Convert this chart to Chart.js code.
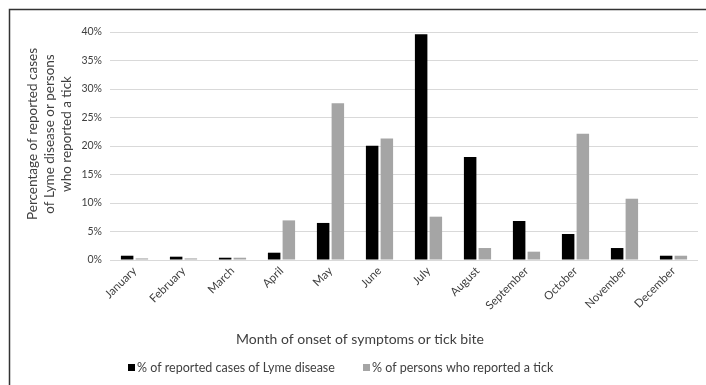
<!DOCTYPE html>
<html>
<head>
<meta charset="utf-8">
<script src="https://cdn.jsdelivr.net/npm/chart.js@4"></script>
<style>
html,body{margin:0;padding:0;background:#fff;}
#wrap{position:absolute;left:0;top:0;width:706px;height:385px;}
</style>
</head>
<body>
<div id="wrap"><canvas id="c" width="706" height="385"></canvas></div>
<script>
const months = ["January","February","March","April","May","June","July","August","September","October","November","December"];
const lymeCases = [0.75,0.58,0.4,1.28,6.5,20.05,39.6,18.07,6.84,4.56,2.1,0.75];
const tickReports = [0.28,0.28,0.4,6.95,27.5,21.3,7.6,2.1,1.46,22.16,10.75,0.75];
const seriesNames = ["% of reported cases of Lyme disease","% of persons who reported a tick"];
const yTitleLines = ["Percentage of reported cases","of Lyme disease or persons","who reported a tick"];
const xTitle = "Month of onset of symptoms or tick bite";
const FONT = "Lato";

const decor = {
  id:'decor',
  afterDraw(chart){
    const ctx = chart.ctx;
    ctx.save();
    // frame
    ctx.strokeStyle = '#333';
    ctx.lineWidth = 1.5;
    ctx.beginPath();
    ctx.moveTo(9.5, 400); ctx.lineTo(9.5, 9.5); ctx.lineTo(720, 9.5);
    ctx.stroke();
    // y title
    ctx.fillStyle = '#404040';
    ctx.font = '13.5px ' + FONT;
    ctx.textAlign = 'center';
    ctx.textBaseline = 'middle';
    ctx.translate(50, 134);
    ctx.rotate(-Math.PI/2);
    yTitleLines.forEach((t,i)=>ctx.fillText(t, 0, (i-1)*17));
    ctx.restore();
    ctx.save();
    // x title
    ctx.fillStyle = '#404040';
    ctx.font = '14px ' + FONT;
    ctx.textAlign = 'center';
    ctx.textBaseline = 'middle';
    ctx.fillText(xTitle, 360, 339);
    // legend
    ctx.font = '12.5px ' + FONT;
    ctx.textAlign = 'left';
    const starts = [128, 363];
    chart.data.datasets.forEach((ds,i)=>{
      ctx.fillStyle = ds.backgroundColor;
      ctx.fillRect(starts[i], 364, 7, 7);
      ctx.fillStyle = '#404040';
      ctx.fillText(ds.label, starts[i]+9, 368);
    });
    ctx.restore();
  }
};

new Chart(document.getElementById('c'), {
  type:'bar',
  data:{
    labels: months,
    datasets:[
      {label: seriesNames[0], data: lymeCases, backgroundColor:'#000000', borderWidth:0},
      {label: seriesNames[1], data: tickReports, backgroundColor:'#a5a5a5', borderWidth:0}
    ]
  },
  options:{
    responsive:false,
    animation:false,
    devicePixelRatio:1,
    layout:{padding:{top:32,right:8,left:0,bottom:0}},
    plugins:{legend:{display:false}, tooltip:{enabled:false}},
    datasets:{bar:{categoryPercentage:0.6, barPercentage:0.85}},
    scales:{
      x:{
        grid:{display:false, drawTicks:false},
        border:{display:false},
        ticks:{font:{family:FONT,size:11.5}, color:'#404040', maxRotation:45, minRotation:45, padding:4, autoSkip:false},
        afterFit(s){ s.height = 125; }
      },
      y:{
        min:0, max:40,
        grid:{color:'#d9d9d9', lineWidth:1, drawTicks:false},
        border:{display:false},
        ticks:{stepSize:5, font:{family:FONT,size:10.5}, color:'#404040', padding:8, callback:v=>v+'%'},
        afterFit(s){ s.width = 110; }
      }
    }
  },
  plugins:[decor]
});
</script>
</body>
</html>
